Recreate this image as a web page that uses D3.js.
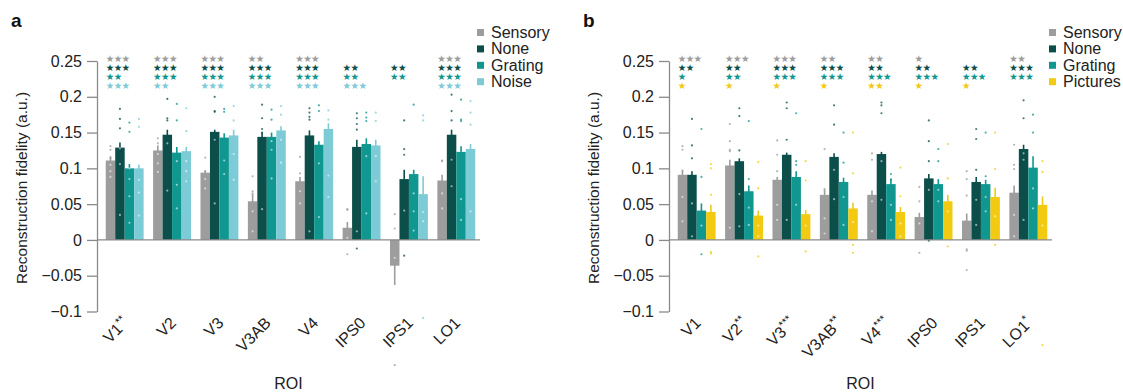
<!DOCTYPE html>
<html>
<head>
<meta charset="utf-8">
<script src="https://cdn.jsdelivr.net/npm/d3@7"></script>
<style>
  body { margin: 0; background: #fff; }
  svg { font-family: "Liberation Sans", Arial, sans-serif; }
</style>
</head>
<body>
<div id="chart"></div>
<script>
// categories
const rois = ["V1", "V2", "V3", "V3AB", "V4", "IPS0", "IPS1", "LO1"];
const roiSupA = ["**", "", "", "", "", "", "", ""];
const roiSupB = ["", "**", "***", "**", "***", "", "", "*"];
const condsA = ["Sensory", "None", "Grating", "Noise"];
const condsB = ["Sensory", "None", "Grating", "Pictures"];
const yTicks = [0.25, 0.2, 0.15, 0.1, 0.05, 0, -0.05, -0.1];
const yTickLabels = ["0.25", "0.2", "0.15", "0.1", "0.05", "0", "\u22120.05", "\u22120.1"];

// panel a : mean reconstruction fidelity
const meanA_sensory = [0.111, 0.125, 0.094, 0.054, 0.082, 0.017, -0.036, 0.083];
const meanA_none    = [0.129, 0.147, 0.151, 0.144, 0.146, 0.130, 0.085, 0.147];
const meanA_grating = [0.100, 0.122, 0.143, 0.144, 0.133, 0.134, 0.092, 0.123];
const meanA_noise   = [0.100, 0.124, 0.146, 0.153, 0.155, 0.132, 0.064, 0.127];
// panel a : sem
const errA_sensory = [0.006, 0.007, 0.003, 0.010, 0.006, 0.008, 0.027, 0.008];
const errA_none    = [0.007, 0.007, 0.003, 0.006, 0.007, 0.010, 0.013, 0.007];
const errA_grating = [0.006, 0.008, 0.006, 0.006, 0.005, 0.008, 0.006, 0.008];
const errA_noise   = [0.005, 0.006, 0.008, 0.006, 0.008, 0.008, 0.025, 0.007];
// panel a : significance stars per row (count)
const starsA_sensory = [3, 3, 3, 2, 3, 0, 0, 3];
const starsA_none    = [3, 3, 3, 3, 3, 2, 2, 3];
const starsA_grating = [2, 3, 3, 3, 3, 2, 2, 3];
const starsA_noise   = [3, 2, 3, 3, 3, 3, 0, 3];
// panel a : individual subjects
const dotsA_sensory = [
  [0.131, 0.126, 0.114, 0.105, 0.096, 0.088], [0.142, 0.135, 0.12, 0.107, 0.095],
  [0.115, 0.096, 0.085, 0.072], [0.089, 0.068, 0.065, 0.04, 0.012],
  [0.116, 0.093, 0.068, 0.051], [0.043, 0.042, 0.003, -0.02],
  [0.036, 0.016, -0.025, -0.122, -0.175], [0.111, 0.11, 0.065, 0.044]];
const dotsA_none = [
  [0.183, 0.169, 0.156, 0.128, 0.106, 0.035], [0.197, 0.17, 0.167, 0.135, 0.069],
  [0.2, 0.18, 0.179, 0.14, 0.051], [0.189, 0.17, 0.155, 0.15, 0.043],
  [0.184, 0.178, 0.172, 0.168, 0.012], [0.177, 0.17, 0.162, 0.154, 0.012, -0.012],
  [0.167, 0.127, 0.119, 0.041, -0.022], [0.203, 0.18, 0.167, 0.112, 0.075]];
const dotsA_grating = [
  [0.164, 0.151, 0.1, 0.085, 0.061, 0.024], [0.19, 0.167, 0.11, 0.077, 0.044],
  [0.183, 0.179, 0.111, 0.092], [0.182, 0.168, 0.138, 0.126, 0.086],
  [0.188, 0.18, 0.107, 0.032], [0.178, 0.171, 0.166, 0.117, 0.037],
  [0.189, 0.065, 0.04, 0.013], [0.196, 0.168, 0.166, 0.057, 0.028]];
const dotsA_noise = [
  [0.169, 0.158, 0.084, 0.066, 0.034], [0.184, 0.152, 0.11, 0.096, 0.082],
  [0.187, 0.167, 0.12, 0.084], [0.187, 0.175, 0.14, 0.108],
  [0.181, 0.168, 0.09, 0.06], [0.178, 0.166, 0.117, 0.082],
  [0.174, 0.167, 0.039, 0.026, -0.109], [0.194, 0.178, 0.161, 0.04]];

// panel b : mean reconstruction fidelity
const meanB_sensory  = [0.091, 0.104, 0.084, 0.063, 0.063, 0.032, 0.027, 0.066];
const meanB_none     = [0.091, 0.110, 0.119, 0.116, 0.120, 0.086, 0.081, 0.127];
const meanB_grating  = [0.041, 0.068, 0.088, 0.081, 0.078, 0.078, 0.078, 0.101];
const meanB_pictures = [0.039, 0.034, 0.036, 0.044, 0.039, 0.054, 0.060, 0.049];
// panel b : sem
const errB_sensory  = [0.006, 0.008, 0.004, 0.006, 0.006, 0.006, 0.010, 0.010];
const errB_none     = [0.005, 0.004, 0.003, 0.005, 0.003, 0.006, 0.007, 0.006];
const errB_grating  = [0.010, 0.008, 0.008, 0.006, 0.008, 0.007, 0.006, 0.016];
const errB_pictures = [0.010, 0.007, 0.006, 0.008, 0.007, 0.009, 0.013, 0.010];
// panel b : significance stars per row (count)
const starsB_sensory  = [3, 3, 3, 2, 2, 1, 0, 2];
const starsB_none     = [2, 2, 3, 3, 2, 2, 2, 3];
const starsB_grating  = [1, 2, 3, 3, 3, 3, 3, 3];
const starsB_pictures = [1, 1, 1, 1, 2, 1, 1, 0];
// panel b : individual subjects
const dotsB_sensory = [
  [0.131, 0.126, 0.097, 0.06, 0.026], [0.162, 0.138, 0.126, 0.124, 0.017],
  [0.139, 0.119, 0.096, 0.049, 0.028], [0.127, 0.071, 0.069, 0.03, 0.009],
  [0.121, 0.112, 0.054, 0.012], [0.074, 0.054, 0.023, -0.018],
  [0.096, 0.085, 0.062, -0.013, -0.015, -0.042], [0.133, 0.105, 0.099, 0.035, 0.005]];
const dotsB_none = [
  [0.169, 0.132, 0.114, 0.051, 0.005], [0.184, 0.173, 0.125, 0.064, 0.019],
  [0.192, 0.184, 0.14, 0.028], [0.188, 0.161, 0.098, 0.057],
  [0.192, 0.188, 0.177, 0.11, 0.056], [0.167, 0.138, 0.11, 0.07, -0.001],
  [0.155, 0.141, 0.098, 0.056, 0.021], [0.195, 0.17, 0.121, 0.112, 0.028]];
const dotsB_grating = [
  [0.155, 0.088, 0.02, -0.02], [0.166, 0.085, 0.045, 0.021],
  [0.177, 0.11, 0.105, 0.049], [0.15, 0.108, 0.06, 0.021],
  [0.092, 0.084, 0.049, 0.028], [0.127, 0.11, 0.07, 0.054],
  [0.15, 0.089, 0.06, 0.04], [0.175, 0.15, 0.072, 0.044]];
const dotsB_pictures = [
  [0.106, 0.1, 0.063, -0.017, -0.019], [0.109, 0.072, 0.02, 0.005, -0.023],
  [0.11, 0.083, 0.02, -0.016], [0.15, 0.093, 0.025, -0.007, -0.018],
  [0.101, 0.061, 0.023, 0.005], [0.134, 0.086, 0.04, -0.009],
  [0.15, 0.099, 0.033, -0.007], [0.11, 0.095, 0.06, 0.02, -0.147]];

const colorsA = ["#9d9d9d", "#0b4e4a", "#109790", "#7ecbd8"];
const colorsB = ["#9d9d9d", "#0b4e4a", "#109790", "#f3ca12"];

const width = 1123, height = 392;
const svg = d3.select("#chart").append("svg")
  .attr("width", width)
  .attr("height", height);

function isInside(m, v) {
  return (m >= 0 && v >= 0 && v <= m) || (m < 0 && v < 0 && v >= m);
}

function drawPanel(offset, letter, conds, colors, means, errs, dots, stars, roiSup) {
  const g = svg.append("g").attr("transform", "translate(" + offset + ",0)");

  const y = d3.scaleLinear().domain([-0.1, 0.25]).range([311.5, 61]);
  const x0 = d3.scaleBand().domain(rois).range([101, 480])
    .paddingInner(0.2).paddingOuter(0.1);
  const x1 = d3.scaleBand().domain(conds).range([0, x0.bandwidth()]);

  // panel letter
  g.append("text")
    .attr("x", 11).attr("y", 27)
    .style("font-size", "19px").style("font-weight", "bold")
    .attr("fill", "#111")
    .text(letter);

  // y axis
  const yAxis = d3.axisLeft(y)
    .tickValues(yTicks)
    .tickFormat((d, i) => yTickLabels[i])
    .tickSize(10).tickSizeOuter(0).tickPadding(5);
  const ya = g.append("g").attr("transform", "translate(97,0)").call(yAxis);
  ya.select(".domain").attr("stroke", "#8a8a8a").attr("stroke-width", 1.3);
  ya.selectAll(".tick line").attr("stroke", "#8a8a8a").attr("stroke-width", 1.3);
  ya.selectAll(".tick text").style("font-size", "16px").attr("fill", "#222");

  g.append("text")
    .attr("transform", "translate(27,188) rotate(-90)")
    .attr("text-anchor", "middle")
    .style("font-size", "15.5px").attr("fill", "#222")
    .text("Reconstruction fidelity (a.u.)");

  // bars + error bars
  conds.forEach((c, ci) => {
    const bars = g.append("g");
    bars.selectAll("rect")
      .data(means[ci])
      .enter().append("rect")
      .attr("x", (d, i) => x0(rois[i]) + x1(c))
      .attr("y", (d) => y(Math.max(d, 0)))
      .attr("width", x1.bandwidth())
      .attr("height", (d) => Math.abs(y(d) - y(0)))
      .attr("fill", colors[ci]);
    bars.selectAll("line")
      .data(means[ci])
      .enter().append("line")
      .attr("x1", (d, i) => x0(rois[i]) + x1(c) + x1.bandwidth() / 2)
      .attr("x2", (d, i) => x0(rois[i]) + x1(c) + x1.bandwidth() / 2)
      .attr("y1", (d, i) => y(d - errs[ci][i]))
      .attr("y2", (d, i) => y(d + errs[ci][i]))
      .attr("stroke", colors[ci])
      .attr("stroke-width", 1.6);
  });

  // subject dots
  conds.forEach((c, ci) => {
    const pts = [];
    dots[ci].forEach((arr, i) => arr.forEach((v) => pts.push({ i: i, v: v })));
    g.append("g").selectAll("circle")
      .data(pts)
      .enter().append("circle")
      .attr("cx", (d) => x0(rois[d.i]) + x1(c) + x1.bandwidth() / 2)
      .attr("cy", (d) => y(d.v))
      .attr("r", 1.1)
      .attr("fill", (d) => isInside(means[ci][d.i], d.v) ? "#ffffff" : colors[ci])
      .attr("opacity", (d) => isInside(means[ci][d.i], d.v) ? 0.55 : 0.75);
  });

  // zero line
  g.append("line")
    .attr("x1", 97).attr("x2", x0.range()[1])
    .attr("y1", y(0)).attr("y2", y(0))
    .attr("stroke", "#8a8a8a").attr("stroke-width", 1.3);

  // significance stars
  conds.forEach((c, ci) => {
    g.append("g").selectAll("text")
      .data(stars[ci])
      .enter().append("text")
      .attr("x", (d, i) => x0(rois[i]))
      .attr("y", 58 + ci * 9)
      .attr("dominant-baseline", "central")
      .style("font-family", "DejaVu Sans")
      .style("font-size", "9.5px")
      .style("letter-spacing", "-0.6px")
      .attr("fill", colors[ci])
      .text((d) => "\u2605".repeat(d));
  });

  // rotated x labels
  const xl = g.append("g").selectAll("text")
    .data(rois)
    .enter().append("text")
    .attr("transform", (d) => "translate(" + (x0(d) + x0.bandwidth() / 2 + 5) + ",324) rotate(-45)")
    .attr("text-anchor", "end")
    .style("font-size", "16px").attr("fill", "#222");
  xl.append("tspan").text((d) => d);
  xl.append("tspan")
    .attr("dy", -6)
    .style("font-size", "11px")
    .text((d, i) => roiSup[i]);

  g.append("text")
    .attr("x", (97 + x0.range()[1]) / 2).attr("y", 389)
    .attr("text-anchor", "middle")
    .style("font-size", "16px").attr("fill", "#222")
    .text("ROI");

  // legend
  const lg = g.append("g").attr("transform", "translate(477,0)");
  conds.forEach((c, ci) => {
    lg.append("rect")
      .attr("x", 0).attr("y", 29 + ci * 16.4)
      .attr("width", 7).attr("height", 7)
      .attr("fill", colors[ci]);
    lg.append("text")
      .attr("x", 14).attr("y", 38 + ci * 16.4)
      .style("font-size", "16px").attr("fill", "#222")
      .text(c);
  });
}

drawPanel(0, "a", condsA, colorsA,
  [meanA_sensory, meanA_none, meanA_grating, meanA_noise],
  [errA_sensory, errA_none, errA_grating, errA_noise],
  [dotsA_sensory, dotsA_none, dotsA_grating, dotsA_noise],
  [starsA_sensory, starsA_none, starsA_grating, starsA_noise],
  roiSupA);

drawPanel(572, "b", condsB, colorsB,
  [meanB_sensory, meanB_none, meanB_grating, meanB_pictures],
  [errB_sensory, errB_none, errB_grating, errB_pictures],
  [dotsB_sensory, dotsB_none, dotsB_grating, dotsB_pictures],
  [starsB_sensory, starsB_none, starsB_grating, starsB_pictures],
  roiSupB);
</script>
</body>
</html>
